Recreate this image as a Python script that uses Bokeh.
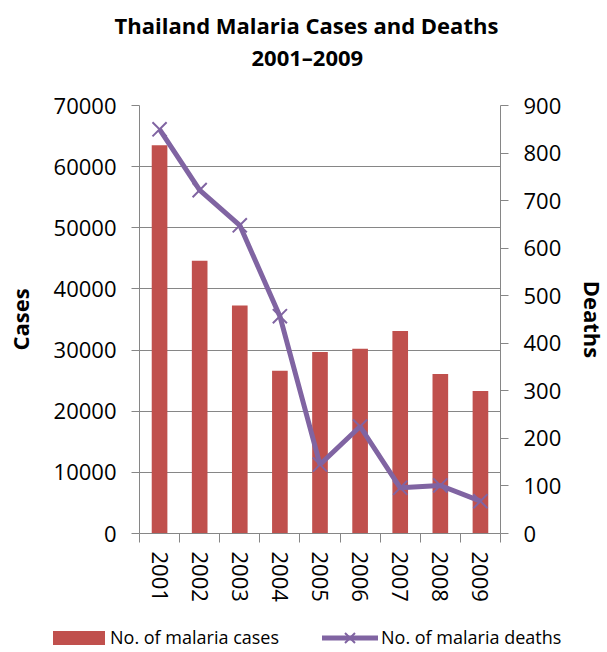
from bokeh.plotting import figure
from bokeh.layouts import column
from bokeh.models import (Range1d, LinearAxis, FixedTicker, Title, Div,
                          NumeralTickFormatter)
from bokeh.embed import file_html
from bokeh.resources import INLINE

title_lines = ["Thailand Malaria Cases and Deaths", "2001\u20132009"]
years = ["2001", "2002", "2003", "2004", "2005", "2006", "2007", "2008", "2009"]
cases = [63500, 44600, 37300, 26600, 29700, 30200, 33100, 26100, 23300]
deaths = [850, 722, 648, 457, 145, 225, 96, 101, 68]
case_ticks = [0, 10000, 20000, 30000, 40000, 50000, 60000, 70000]
death_ticks = [0, 100, 200, 300, 400, 500, 600, 700, 800, 900]
series_names = ["No. of malaria cases", "No. of malaria deaths"]

FONT = "Open Sans"
GRAY = "#868686"
BAR = "#C0504D"
LINE = "#8064A2"

xs = [i + 0.5 for i in range(len(years))]
bounds = list(range(len(years) + 1))

p = figure(frame_width=361, frame_height=428, output_backend="svg", toolbar_location=None,
           x_range=Range1d(0, len(years)), y_range=Range1d(0, 70000),
           min_border_left=139, min_border_right=107, min_border_top=105,
           min_border_bottom=87, title=None)
p.outline_line_color = None
p.background_fill_color = "white"
p.border_fill_color = "white"
p.extra_y_ranges = {"deaths": Range1d(0, 900)}

# title: spacer closest to the frame, then line 2, then line 1
p.add_layout(Title(text=" ", text_font_size="1px", standoff=31), "above")
p.add_layout(Title(text=title_lines[1], text_font=FONT, text_font_style="bold",
                   text_font_size="22px", text_color="black", align="left",
                   offset=112, standoff=0), "above")
p.add_layout(Title(text=title_lines[0], text_font=FONT, text_font_style="bold",
                   text_font_size="22px", text_color="black", align="left",
                   offset=-25, standoff=0), "above")

p.vbar(x=xs, top=cases, width=0.39, fill_color=BAR, line_color=None)
p.line(xs, deaths, y_range_name="deaths", line_width=5, line_color=LINE)
p.scatter(xs, deaths, y_range_name="deaths", marker="x", size=20,
          line_width=2, line_color=LINE)

xa = p.xaxis[0]
xa.ticker = FixedTicker(ticks=xs, minor_ticks=bounds)
xa.major_label_overrides = {x: y for x, y in zip(xs, years)}
xa.major_tick_line_color = None
xa.major_tick_out = 0
xa.major_tick_in = 0
xa.minor_tick_line_color = GRAY
xa.minor_tick_out = 9
xa.minor_tick_in = 0
xa.major_label_orientation = "vertical"
xa.major_label_standoff = 9
xa.major_label_text_font = FONT
xa.major_label_text_font_size = "22px"
xa.major_label_text_color = "black"
xa.axis_line_color = GRAY


def style_y(ax, label, label_standoff):
    ax.major_tick_out = 8
    ax.major_tick_in = 0
    ax.minor_tick_line_color = None
    ax.major_tick_line_color = GRAY
    ax.axis_line_color = GRAY
    ax.major_label_standoff = 15
    ax.major_label_text_font = FONT
    ax.major_label_text_font_size = "22px"
    ax.major_label_text_color = "black"
    ax.axis_label = label
    ax.axis_label_text_font = FONT
    ax.axis_label_text_font_style = "bold"
    ax.axis_label_text_font_size = "22px"
    ax.axis_label_text_color = "black"
    ax.axis_label_standoff = label_standoff
    ax.formatter = NumeralTickFormatter(format="0")


ya = p.yaxis[0]
ya.ticker = FixedTicker(ticks=case_ticks)
style_y(ya, "Cases", 16)

ra = LinearAxis(y_range_name="deaths", ticker=FixedTicker(ticks=death_ticks))
style_y(ra, "Deaths", 14)
p.add_layout(ra, "right")

p.xgrid.visible = False
p.ygrid.grid_line_color = GRAY
p.ygrid.grid_line_width = 1

# legend strip under the chart
legend_html = (
    '<div style="position:relative;width:607px;height:32px;background:white;'
    f'font-family:\'{FONT}\';font-size:18px;color:black;white-space:nowrap;">'
    f'<div style="position:absolute;left:53px;top:11px;width:52px;height:14px;background:{BAR};"></div>'
    f'<span style="position:absolute;left:110px;top:5px;line-height:25px;">{series_names[0]}</span>'
    '<svg style="position:absolute;left:322px;top:8px;" width="56" height="20">'
    f'<line x1="0" y1="10" x2="56" y2="10" stroke="{LINE}" stroke-width="5" stroke-linecap="round"/>'
    f'<path d="M23 5 L33 15 M33 5 L23 15" stroke="{LINE}" stroke-width="2"/></svg>'
    f'<span style="position:absolute;left:381px;top:5px;line-height:25px;">{series_names[1]}</span>'
    '</div>'
)
legend_div = Div(text=legend_html, width=607, height=32, margin=0)

layout = column(p, legend_div, spacing=0)
open("out.html", "w").write(file_html(layout, INLINE))
